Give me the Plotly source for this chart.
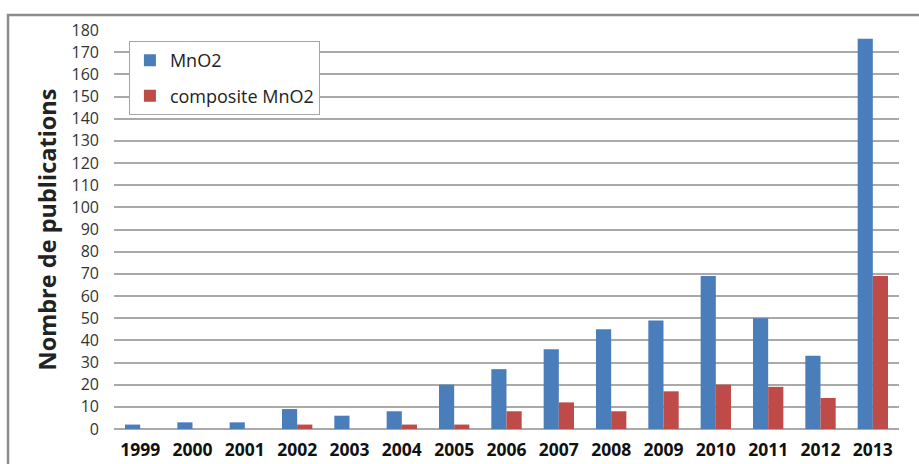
import plotly.graph_objects as go

years = ["1999", "2000", "2001", "2002", "2003", "2004", "2005", "2006",
         "2007", "2008", "2009", "2010", "2011", "2012", "2013"]
mno2 = [2, 3, 3, 9, 6, 8, 20, 27, 36, 45, 49, 69, 50, 33, 176]
composite_mno2 = [0, 0, 0, 2, 0, 2, 2, 8, 12, 8, 17, 20, 19, 14, 69]
y_ticks = list(range(0, 181, 10))

fig = go.Figure()
fig.add_trace(go.Bar(x=years, y=mno2, name="MnO2", legendgroup="a",
                     marker=dict(color="#4a7ebb", line=dict(width=0))))
fig.add_trace(go.Bar(x=years, y=composite_mno2, name="composite MnO2", legendgroup="b",
                     marker=dict(color="#be4b48", line=dict(width=0))))

fig.update_layout(
    width=919, height=464,
    margin=dict(l=114, r=20, t=30, b=35),
    paper_bgcolor="white", plot_bgcolor="white",
    barmode="group", bargap=0.42, bargroupgap=0,
    font=dict(family="Open Sans", color="#333333"),
    legend=dict(x=0.019, y=0.972, xanchor="left", yanchor="top",
                bordercolor="#a6a6a6", borderwidth=1, bgcolor="white",
                font=dict(size=18, color="#222222"), tracegroupgap=9,
                itemwidth=30),
    xaxis=dict(showgrid=False, showline=False, ticks="", automargin=False,
               tickfont=dict(size=17.5, color="#111111", family="Open Sans", weight="bold"),
               ticklabelstandoff=8),
    yaxis=dict(range=[0, 180], tickvals=y_ticks, showgrid=True, automargin=False,
               gridcolor="#a9a9a9", gridwidth=1.5, zeroline=True,
               zerolinecolor="#a9a9a9", zerolinewidth=1.5, showline=False,
               ticks="", ticklabelstandoff=14,
               tickfont=dict(size=16, color="#333333"),
               title=dict(text="Nombre de publications", standoff=8,
                          font=dict(size=23.5, color="#222222", weight="bold"))),
    shapes=[dict(type="rect", xref="paper", yref="paper",
                 x0=-0.135, x1=1.2, y0=-0.3, y1=1.0376,
                 line=dict(color="#8c8c8c", width=2.5), layer="below")],
)

fig.write_html("out.html")
